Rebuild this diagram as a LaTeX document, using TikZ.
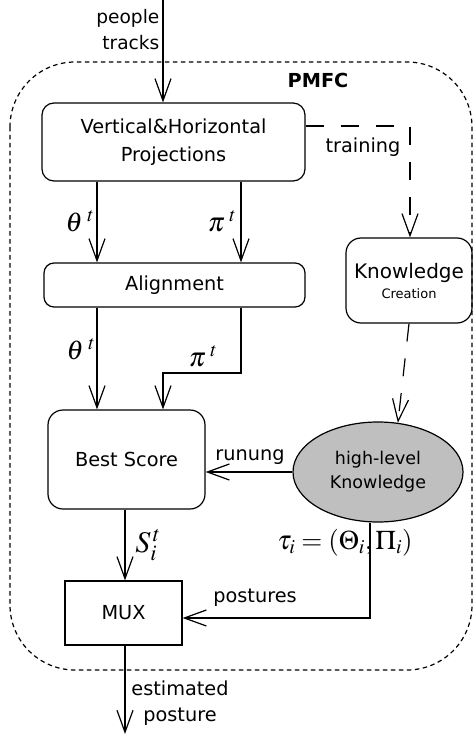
\documentclass[tikz,border=0pt]{standalone}
\usepackage{mathptmx}
\usepackage[no-math]{fontspec}
\setmainfont{DejaVu Sans}
\usetikzlibrary{arrows.meta,shapes.geometric}

\begin{document}
\begin{tikzpicture}[x=1pt,y=-1pt,line width=1.2pt,
	font=\fontsize{19.3}{27}\selectfont,
	>={Straight Barb[length=22pt,width=16pt]},
	block/.style={draw,rounded corners=12pt,align=center,inner sep=0pt},
	mathlbl/.style={font=\fontsize{27}{30}\selectfont,inner sep=0pt},
	train/.style={dash pattern=on 18pt off 17pt}]
	\useasboundingbox (0,0) rectangle (473,735);
	% PMFC Frame %
	\draw [line width=1.2pt,dash pattern=on 4.5pt off 3.5pt,rounded corners=65pt] (10,62) rectangle (472,670);
	\node (pmfc) at (318,80) {\bfseries PMFC};
	% Blocks %
	\node [block,minimum width=263pt,minimum height=78pt,font=\fontsize{19.3}{28}\selectfont] (vhproj) at (173.5,142) {Vertical\&Horizontal\\Projections};
	\node [block,rounded corners=10pt,minimum width=261pt,minimum height=44pt] (align) at (174.5,285) {Alignment};
	\node [block,rounded corners=15pt,minimum width=157pt,minimum height=99pt] (bestscore) at (126.5,459.5) {Best Score};
	\node [block,rounded corners=15pt,minimum width=126pt,minimum height=85pt] (knowcreate) at (409,280.5) {\fontsize{20}{27}\selectfont Knowledge\\[-7pt]{\fontsize{13}{15}\selectfont Creation}};
	\node [draw,ellipse,fill=black!25,minimum width=170pt,minimum height=100pt,inner sep=0pt,align=center,font=\fontsize{17.5}{24}\selectfont] (hlknow) at (378,472) {high-level\\Knowledge};
	\node [draw,minimum width=117pt,minimum height=64pt,inner sep=0pt] (mux) at (123.5,613) {MUX};
	% Turning Points %
	\coordinate (in) at (163,0);
	\coordinate (out) at (125,734);
	\coordinate (thx) at (97,0);
	\coordinate (pix) at (241,0);
	\coordinate (sx) at (125,0);
	\coordinate (pibend) at (163,373);
	\coordinate (trainturn) at (410,126);
	\coordinate (postbend) at (370,618);
	% Connectors %
	\draw [->] (in) -- (in |- vhproj.north);
	\node [align=right,anchor=east,inner sep=0pt,font=\fontsize{18.6}{26}\selectfont] (intext) at (160,30) {people\\tracks};
	\draw [->,train] (vhproj.east |- trainturn) -- (trainturn) -- (knowcreate.north -| trainturn);
	\node (traintext) at (363,147) {training};
	\draw [->] (vhproj.south -| thx) -- (align.north -| thx);
	\draw [->] (vhproj.south -| pix) -- (align.north -| pix);
	\node [mathlbl] (theta1) at (80,221) {$\theta^{\;t}$};
	\node [mathlbl] (pi1) at (222,221) {$\pi^{\;t}$};
	\draw [->] (align.south -| thx) -- (bestscore.north -| thx);
	\draw [->] (align.south -| pix) |- (pibend) -- (bestscore.north -| pibend);
	\node [mathlbl] (theta2) at (81,349) {$\theta^{\;t}$};
	\node [mathlbl] (pi2) at (203,356) {$\pi^{\;t}$};
	\draw [->,train] (knowcreate.south) -- (hlknow.68);
	\draw [->] (hlknow.west) -- (bestscore.east |- hlknow.west);
	\node (runtext) at (250,457) {runung};
	\draw [->] (bestscore.south -| sx) -- (mux.north -| sx);
	\node [mathlbl,font=\fontsize{30}{32}\selectfont] (stext) at (148,545) {$S_i^{\,t}$};
	\draw [->] (hlknow.south -| postbend) -- (postbend) -- (mux.east |- postbend);
	\node [mathlbl] (tautext) at (345,543) {$\tau_i=(\Theta_i,\Pi_i)$};
	\node (posttext) at (255,598) {postures};
	\draw [->] (mux.south -| out) -- (out);
	\node [align=center,inner sep=0pt,font=\fontsize{19.3}{26}\selectfont] (outtext) at (180,703) {estimated\\posture};
\end{tikzpicture}
\end{document}
